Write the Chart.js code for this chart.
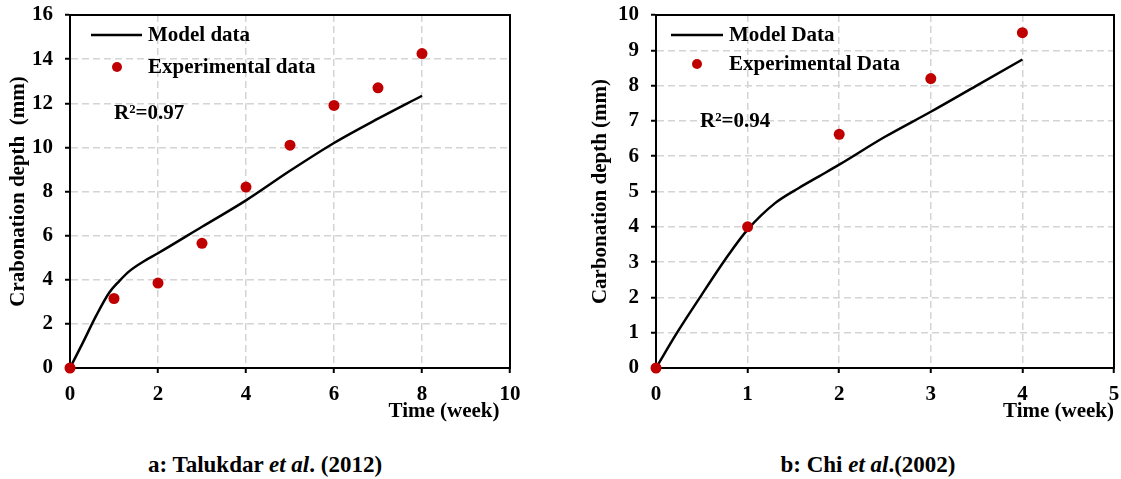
<!DOCTYPE html>
<html>
<head>
<meta charset="utf-8">
<script src="https://cdn.jsdelivr.net/npm/chart.js@4"></script>
<style>
  body { margin: 0; background: #fff; width: 1121px; height: 479px; position: relative; overflow: hidden;
         font-family: "Liberation Serif", "Times New Roman", serif; }
  .panel { position: absolute; top: 0; height: 430px; }
  #panel-a { left: 0; width: 530px; }
  #panel-b { left: 560px; width: 561px; }
  .caption { position: absolute; top: 452px; font-weight: bold; font-size: 23px; line-height: 26px; text-align: center; white-space: nowrap; }
  #cap-a { left: 265px; transform: translateX(-50%); }
  #cap-b { left: 868px; transform: translateX(-50%); }
</style>
</head>
<body>
<div class="panel" id="panel-a"><canvas id="chart-a"></canvas></div>
<div class="panel" id="panel-b"><canvas id="chart-b"></canvas></div>
<div class="caption" id="cap-a">a: Talukdar <i>et al</i>. (2012)</div>
<div class="caption" id="cap-b">b: Chi <i>et al</i>.(2002)</div>

<script>
// ------------------------------------------------------------
// data (a: Talukdar et al. 2012)
// ------------------------------------------------------------
const aModelWeeks = [0, 0.29, 0.59, 0.89, 1.12, 1.35, 1.69, 2, 3, 4, 5, 6, 7, 8];
const aModelDepth = [0, 1.14, 2.35, 3.41, 3.94, 4.39, 4.85, 5.2, 6.4, 7.6, 8.94, 10.2, 11.3, 12.34];
const aExpWeeks = [0, 1, 2, 3, 4, 5, 6, 7, 8];
const aExpDepth = [0, 3.15, 3.85, 5.65, 8.2, 10.1, 11.9, 12.7, 14.25];

// ------------------------------------------------------------
// data (b: Chi et al. 2002)
// ------------------------------------------------------------
const bModelWeeks = [0, 0.23, 0.48, 0.79, 1, 1.3, 1.56, 1.78, 2, 2.5, 3, 3.5, 4];
const bModelDepth = [0, 1.0, 2.0, 3.2, 3.92, 4.67, 5.1, 5.43, 5.76, 6.55, 7.26, 8.0, 8.74];
const bExpWeeks = [0, 1, 2, 3, 4];
const bExpDepth = [0, 4.0, 6.62, 8.2, 9.5];

const FONT = "'Liberation Serif', 'Times New Roman', serif";
const RED = "#c00000";
const GRID = "#d4d4d4";

function toXY(xs, ys) {
    return xs.map((x, i) => ({ x: x, y: ys[i] }));
}

// 플롯 테두리 + 범례 + R² 텍스트
function decorPlugin(cfg) {
    return {
        id: "decor",
        beforeDatasetsDraw(chart) {
            const { ctx, chartArea: a } = chart;
            ctx.save();
            ctx.strokeStyle = "#000";
            ctx.lineWidth = 2;
            ctx.strokeRect(a.left, a.top, a.right - a.left, a.bottom - a.top);
            ctx.restore();
        },
        afterDraw(chart) {
            const ctx = chart.ctx;
            ctx.save();
            ctx.font = `bold 21px ${FONT}`;
            ctx.fillStyle = "#000";
            ctx.textBaseline = "middle";
            // legend: line sample
            ctx.strokeStyle = "#000";
            ctx.lineWidth = 2.5;
            ctx.beginPath();
            ctx.moveTo(cfg.lineX1, cfg.row1);
            ctx.lineTo(cfg.lineX2, cfg.row1);
            ctx.stroke();
            ctx.fillText(cfg.modelLabel, cfg.textX, cfg.row1 + 1);
            // legend: dot
            ctx.fillStyle = RED;
            ctx.beginPath();
            ctx.arc(cfg.dotX, cfg.row2, 5, 0, Math.PI * 2);
            ctx.fill();
            ctx.fillStyle = "#000";
            ctx.fillText(cfg.expLabel, cfg.textX, cfg.row2 + 1);
            // R²
            ctx.fillText(cfg.r2, cfg.r2X, cfg.r2Y);
            ctx.restore();
        },
    };
}

function makeChart(id, opts) {
    const tickFont = { family: FONT, size: 21, weight: "bold" };
    const titleFont = { family: FONT, size: 21, weight: "bold" };
    return new Chart(document.getElementById(id), {
        type: "line",
        data: {
            datasets: [
                {
                    label: opts.modelLabel,
                    data: toXY(opts.modelX, opts.modelY),
                    borderColor: "#000",
                    borderWidth: 2.5,
                    pointRadius: 0,
                    cubicInterpolationMode: "monotone",
                    clip: false,
                    order: 2,
                },
                {
                    label: opts.expLabel,
                    data: toXY(opts.expX, opts.expY),
                    showLine: false,
                    pointRadius: 5.5,
                    pointBackgroundColor: RED,
                    pointBorderWidth: 0,
                    clip: false,
                    order: 1,
                },
            ],
        },
        options: {
            responsive: true,
            maintainAspectRatio: false,
            animation: false,
            events: [],
            layout: { padding: { top: 15, bottom: 6, left: opts.padLeft, right: opts.padRight } },
            plugins: { legend: { display: false }, tooltip: { enabled: false } },
            scales: {
                x: {
                    type: "linear",
                    min: 0,
                    max: opts.xMax,
                    ticks: { stepSize: opts.xStep, color: "#000", font: tickFont, padding: 9 },
                    grid: { color: GRID, lineWidth: 1.5, tickColor: "#000", tickWidth: 2, tickLength: 5, tickBorderDash: [] },
                    border: { color: "#000", width: 2, dash: [7, 4] },
                    title: { display: true, text: opts.xTitle, align: "end", color: "#000", font: titleFont, padding: 0 },
                    afterFit: s => { s.height = 56; s.paddingLeft = 4; s.paddingRight = 4; },
                },
                y: {
                    min: 0,
                    max: opts.yMax,
                    ticks: { stepSize: opts.yStep, color: "#000", font: tickFont, padding: 12 },
                    grid: { color: GRID, lineWidth: 1.5, tickColor: "#000", tickWidth: 2, tickLength: 5, tickBorderDash: [] },
                    border: { color: "#000", width: 2, dash: [7, 4] },
                    title: { display: true, text: opts.yTitle, color: "#000", font: titleFont, padding: 0 },
                    afterFit: s => { s.width = opts.yWidth; s.paddingTop = 10; s.paddingBottom = 10; },
                },
            },
        },
        plugins: [decorPlugin(opts.decor)],
    });
}

makeChart("chart-a", {
    modelLabel: "Model data", expLabel: "Experimental data",
    modelX: aModelWeeks, modelY: aModelDepth, expX: aExpWeeks, expY: aExpDepth,
    xMax: 10, xStep: 2, yMax: 16, yStep: 2,
    xTitle: "Time (week)\u00a0\u00a0",
    yTitle: "Crabonation depth  (mm)",
    padLeft: 6, padRight: 20, yWidth: 64,
    decor: { lineX1: 91, lineX2: 142, row1: 35, dotX: 117, row2: 67, textX: 148,
             modelLabel: "Model data", expLabel: "Experimental data",
             r2: "R²=0.97", r2X: 114, r2Y: 114 },
});

makeChart("chart-b", {
    modelLabel: "Model Data", expLabel: "Experimental Data",
    modelX: bModelWeeks, modelY: bModelDepth, expX: bExpWeeks, expY: bExpDepth,
    xMax: 5, xStep: 1, yMax: 10, yStep: 1,
    xTitle: "Time (week)",
    yTitle: "Carbonation depth (mm)",
    padLeft: 28, padRight: 7, yWidth: 68,
    decor: { lineX1: 111, lineX2: 163, row1: 35, dotX: 137, row2: 64, textX: 169,
             modelLabel: "Model Data", expLabel: "Experimental Data",
             r2: "R²=0.94", r2X: 140, r2Y: 122 },
});
</script>
</body>
</html>
